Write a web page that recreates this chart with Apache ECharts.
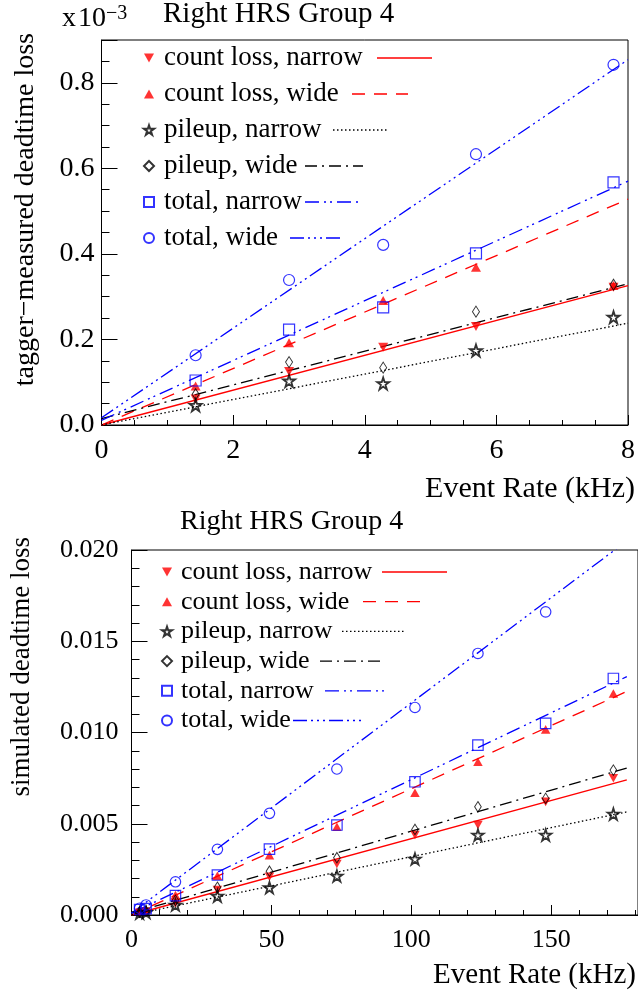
<!DOCTYPE html>
<html>
<head>
<meta charset="utf-8">
<script src="https://cdn.jsdelivr.net/npm/echarts@6/dist/echarts.min.js"></script>
<style>
  html, body { margin: 0; padding: 0; background: #fff; }
  #chart { width: 638px; height: 993px; }
</style>
</head>
<body>
<div id="chart"></div>
<script>
// ==========================================
// data
// ==========================================
const seriesNames = ['count loss, narrow', 'count loss, wide', 'pileup, narrow', 'pileup, wide', 'total, narrow', 'total, wide'];

// top pad: tagger-measured loss (x 10^-3) vs event rate (kHz)
const taggerRate = [1.43, 2.85, 4.28, 5.69, 7.78];
const taggerCountNarrow = [0.061, 0.125, 0.182, 0.230, 0.322];
const taggerCountWide = [0.091, 0.192, 0.291, 0.369, 0.326];
const taggerPileNarrow = [0.046, 0.103, 0.097, 0.174, 0.252];
const taggerPileWide = [0.072, 0.147, 0.134, 0.265, 0.328];
const taggerTotalNarrow = [0.104, 0.223, 0.275, 0.401, 0.567];
const taggerTotalWide = [0.163, 0.339, 0.421, 0.633, 0.842];

// straight-line fits, value at each end of the fit range
const taggerFitRate = [0, 8];
const taggerFitCountNarrow = [0, 0.326];
const taggerFitCountWide = [0, 0.528];
const taggerFitPileNarrow = [0, 0.238];
const taggerFitPileWide = [0.015, 0.330];
const taggerFitTotalNarrow = [0.011, 0.570];
const taggerFitTotalWide = [0.017, 0.854];

// bottom pad: simulated loss vs event rate (kHz)
const simRate = [2.9, 5.2, 15.7, 30.7, 49.3, 73.4, 101.3, 123.8, 148.0, 172.2];
const simCountNarrow = [0.00012, 0.00018, 0.00065, 0.00137, 0.0021, 0.00279, 0.00438, 0.00493, 0.0062, 0.00749];
const simCountWide = [0.00022, 0.0003, 0.0011, 0.00215, 0.00328, 0.00484, 0.0067, 0.0084, 0.01017, 0.01214];
const simPileNarrow = [0.0001, 0.00015, 0.00055, 0.00104, 0.0015, 0.00214, 0.00307, 0.00438, 0.00438, 0.00553];
const simPileWide = [0.00015, 0.0002, 0.0008, 0.00152, 0.0024, 0.00314, 0.00469, 0.00593, 0.00639, 0.00794];
const simTotalNarrow = [0.0003, 0.00035, 0.00106, 0.00219, 0.00361, 0.00493, 0.0073, 0.00931, 0.0105, 0.01296];
const simTotalWide = [0.00037, 0.00055, 0.00182, 0.0036, 0.00557, 0.0080, 0.01137, 0.01433, 0.01661, null];

const simFitRate = [0, 177];
const simFitCountNarrow = [0, 0.00741];
const simFitCountWide = [0, 0.01225];
const simFitPileNarrow = [0, 0.00565];
const simFitPileWide = [0.0001, 0.00805];
const simFitTotalNarrow = [0.0001, 0.01306];
const simFitTotalWide = [0.0001, 0.0205];

const topTicksX = ['0', '2', '4', '6', '8'];
const botTicksX = ['0', '50', '100', '150'];

// ==========================================
// styles
// ==========================================
const FONT = '"Liberation Serif", "Times New Roman", serif';
const RED = '#ff0000', BLUE = '#0000ff', BLACK = '#000000';
const STAR = 'path://M12,0 L14.8,8.6 L23.8,8.6 L16.5,13.9 L19.3,22.6 L12,17.2 L4.7,22.6 L7.5,13.9 L0.2,8.6 L9.2,8.6 Z';
const TRI_DOWN = 'path://M0,0 L10,0 L5,9 Z';
const TRI_UP = 'path://M5,0 L10,9 L0,9 Z';
const HOLLOW = 'rgba(255,255,255,0)';

const markers = [
    { symbol: TRI_DOWN, size: [10, 9], itemStyle: { color: RED } },
    { symbol: TRI_UP, size: [10, 9], itemStyle: { color: RED } },
    { symbol: STAR, size: 12, itemStyle: { color: HOLLOW, borderColor: BLACK, borderWidth: 1.8 } },
    { symbol: 'diamond', size: [7, 11], itemStyle: { color: HOLLOW, borderColor: BLACK, borderWidth: 1 } },
    { symbol: 'rect', size: 11, itemStyle: { color: HOLLOW, borderColor: BLUE, borderWidth: 1.2 } },
    { symbol: 'circle', size: 11, itemStyle: { color: HOLLOW, borderColor: BLUE, borderWidth: 1.2 } }
];
const lines = [
    { color: RED, type: 'solid' },
    { color: RED, type: [13, 9] },
    { color: BLACK, type: [1.5, 2.5] },
    { color: BLACK, type: [12, 5, 2, 5] },
    { color: BLUE, type: [14, 5, 2, 4, 2, 5] },
    { color: BLUE, type: [14, 4, 2, 4, 2, 4, 2, 4] }
];

const topPoints = [taggerCountNarrow, taggerCountWide, taggerPileNarrow, taggerPileWide, taggerTotalNarrow, taggerTotalWide];
const topFits = [taggerFitCountNarrow, taggerFitCountWide, taggerFitPileNarrow, taggerFitPileWide, taggerFitTotalNarrow, taggerFitTotalWide];
const botPoints = [simCountNarrow, simCountWide, simPileNarrow, simPileWide, simTotalNarrow, simTotalWide];
const botFits = [simFitCountNarrow, simFitCountWide, simFitPileNarrow, simFitPileWide, simFitTotalNarrow, simFitTotalWide];

function zip(xs, ys) {
    return xs.map((x, i) => [x, ys[i]]).filter(p => p[1] != null);
}

let series = [];
function addPad(idx, rates, points, fitRate, fits, scale) {
    seriesNames.forEach((name, i) => {
        series.push({
            name: name + ' fit', type: 'line', xAxisIndex: idx, yAxisIndex: idx,
            data: zip(fitRate, fits[i]), symbol: 'none', silent: true, clip: true,
            lineStyle: { color: lines[i].color, type: lines[i].type, width: 1.3 }, z: 2
        });
    });
    seriesNames.forEach((name, i) => {
        const m = markers[i];
        const sz = Array.isArray(m.size) ? m.size.map(s => s * scale) : m.size * scale;
        series.push({
            name: name, type: 'scatter', xAxisIndex: idx, yAxisIndex: idx,
            data: zip(rates, points[i]), symbol: m.symbol, symbolSize: sz,
            itemStyle: m.itemStyle, z: 3
        });
    });
}
addPad(0, taggerRate, topPoints, taggerFitRate, topFits, 1);
addPad(1, simRate, botPoints, simFitRate, botFits, 0.95);

function xAx(idx, max, interval, labels, fs) {
    return {
        gridIndex: idx, type: 'value', min: 0, max: max, interval: interval,
        axisLine: { show: true, onZero: false, lineStyle: { color: BLACK, width: 1 } },
        axisTick: { inside: true, length: 10, lineStyle: { color: BLACK } },
        minorTick: { show: true, splitNumber: interval === 2 ? 4 : 5, length: 5, lineStyle: { color: BLACK } },
        splitLine: { show: false },
        axisLabel: {
            color: BLACK, fontFamily: FONT, fontSize: fs, margin: 12, showMaxLabel: max === 8,
            formatter: v => labels[Math.round(v / interval)] || ''
        }
    };
}
function yAx(idx, max, interval, digits, fs, margin) {
    return {
        gridIndex: idx, type: 'value', min: 0, max: max, interval: interval,
        axisLine: { show: true, onZero: false, lineStyle: { color: BLACK, width: 1 } },
        axisTick: { inside: true, length: 16, lineStyle: { color: BLACK } },
        minorTick: { show: true, splitNumber: digits === 1 ? 4 : 5, length: 8, lineStyle: { color: BLACK } },
        splitLine: { show: false },
        axisLabel: {
            color: BLACK, fontFamily: FONT, fontSize: fs, margin: margin, showMaxLabel: digits !== 1,
            formatter: v => v.toFixed(digits)
        }
    };
}

function legendFor(top, left, fs, lh, gap, pad) {
    return {
        data: seriesNames, orient: 'vertical', left: left, top: top, padding: 0,
        itemWidth: 10, itemHeight: 10, itemGap: gap, selectedMode: false,
        textStyle: { color: BLACK, fontFamily: FONT, fontSize: fs, lineHeight: lh, padding: [0, 0, 0, pad] }
    };
}

// line samples after the legend text
const topRowsY = [58, 94, 130, 166, 202, 238];
const topSampleX = [[377, 432], [352, 408], [333, 388], [305, 363], [305, 358], [290, 343]];
const botRowsY = [572, 601.7, 631.4, 661.1, 690.8, 720.5];
const botSampleX = [[382, 447], [363, 424], [342, 406], [320, 382], [325, 388], [293, 363]];
let graphics = [];
function addSamples(rowsY, sampleX) {
    rowsY.forEach((y, i) => {
        graphics.push({
            type: 'line', shape: { x1: sampleX[i][0], y1: y, x2: sampleX[i][1], y2: y },
            style: { stroke: lines[i].color, lineWidth: 1.3, lineDash: lines[i].type === 'solid' ? null : lines[i].type }
        });
    });
}
addSamples(topRowsY, topSampleX);
addSamples(botRowsY, botSampleX);

graphics.push(
    {
        type: 'text', x: 62, y: 4,
        style: {
            text: '{a|x}{s| }{a|10}{b|−3}', fill: BLACK,
            rich: {
                a: { fontFamily: FONT, fontSize: 28, lineHeight: 30 },
                s: { fontFamily: FONT, fontSize: 8, lineHeight: 30 },
                b: { fontFamily: FONT, fontSize: 20, lineHeight: 20, verticalAlign: 'top' }
            }
        }
    },
    {
        type: 'text', x: 26, y: 33, rotation: Math.PI / 2,
        style: { text: 'tagger−measured deadtime loss', fill: BLACK, font: '28px ' + FONT, align: 'right', verticalAlign: 'middle' }
    },
    {
        type: 'text', x: 22, y: 537, rotation: Math.PI / 2,
        style: { text: 'simulated deadtime loss', fill: BLACK, font: '27px ' + FONT, align: 'right', verticalAlign: 'middle' }
    },
    {
        type: 'text', x: 635, y: 489,
        style: { text: 'Event Rate (kHz)', fill: BLACK, font: '30px ' + FONT, align: 'right', verticalAlign: 'middle' }
    },
    {
        type: 'text', x: 636, y: 975,
        style: { text: 'Event Rate (kHz)', fill: BLACK, font: '29px ' + FONT, align: 'right', verticalAlign: 'middle' }
    }
);

const chart = echarts.init(document.getElementById('chart'), null, { renderer: 'canvas' });
chart.setOption({
    animation: false,
    backgroundColor: '#fff',
    title: [
        { text: 'Right HRS Group 4', left: 163, top: 0, padding: 0, textStyle: { color: BLACK, fontFamily: FONT, fontSize: 29, fontWeight: 'normal' } },
        { text: 'Right HRS Group 4', left: 180, top: 508, padding: 0, textStyle: { color: BLACK, fontFamily: FONT, fontSize: 28, fontWeight: 'normal' } }
    ],
    grid: [
        { left: 101.5, top: 40, width: 531, height: 385, show: true, borderColor: BLACK, borderWidth: 1, backgroundColor: 'transparent' },
        { left: 131.5, top: 550, width: 508.5, height: 365, show: true, borderColor: BLACK, borderWidth: 1, backgroundColor: 'transparent' }
    ],
    xAxis: [xAx(0, 8, 2, topTicksX, 28), xAx(1, 181, 50, botTicksX, 26)],
    yAxis: [yAx(0, 0.9, 0.2, 1, 28, 7), yAx(1, 0.02, 0.005, 3, 26, 13)],
    legend: [legendFor(43, 143, 27, 30, 6, 5), legendFor(559, 161, 26, 26, 3.7, 4)],
    graphic: graphics,
    series: series
});
</script>
</body>
</html>
